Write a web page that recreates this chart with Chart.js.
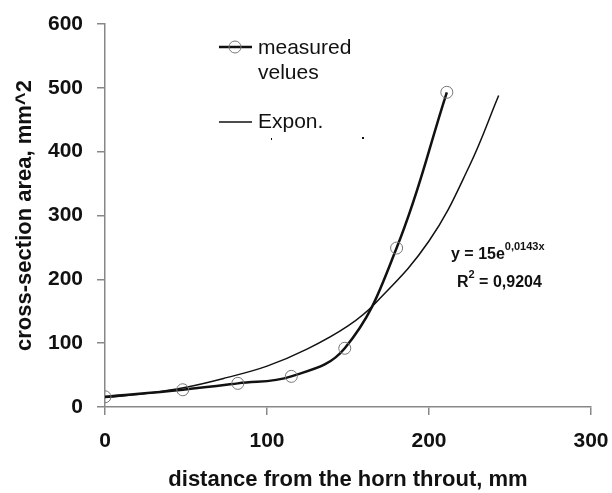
<!DOCTYPE html>
<html>
<head>
<meta charset="utf-8">
<script src="https://cdn.jsdelivr.net/npm/chart.js@4.4.0/dist/chart.umd.min.js"></script>
<style>
  html, body { margin: 0; padding: 0; background: #fff; }
  #wrap { width: 612px; height: 493px; }
</style>
</head>
<body>
<div id="wrap"><canvas id="myChart" width="612" height="493"></canvas></div>
<script>
// measured points
const measX = [0, 48, 82, 115, 148, 180, 211];
const measY = [16, 27, 37, 48, 92, 249, 493];
// exponential trendline
const expX = [0, 25, 50, 75, 100, 125, 150, 167, 200, 225, 243];
const expY = [15, 21, 31, 46, 64, 91, 127, 163, 260, 378, 488];
const xTicks = [0, 100, 200, 300];
const yTicks = [0, 100, 200, 300, 400, 500, 600];

const FONT = "'Liberation Sans', Arial, sans-serif";
const ctx = document.getElementById('myChart');

// legend + equation drawn by hand, like the original picture
const extras = {
  id: 'extras',
  afterDraw(chart) {
    const c = chart.ctx;
    c.save();
    c.fillStyle = '#111';
    c.strokeStyle = '#111';
    c.textBaseline = 'middle';
    c.textAlign = 'left';

    // legend: measured
    c.lineWidth = 2.5;
    c.beginPath(); c.moveTo(219, 47); c.lineTo(252, 47); c.stroke();
    c.lineWidth = 1;
    c.strokeStyle = '#777';
    c.beginPath(); c.arc(235, 47, 6, 0, Math.PI * 2); c.stroke();
    c.font = '21px ' + FONT;
    c.fillText('measured', 258, 48);
    c.fillText('velues', 258, 73);
    // legend: Expon.
    c.strokeStyle = '#111';
    c.lineWidth = 1.5;
    c.beginPath(); c.moveTo(219, 122); c.lineTo(252, 122); c.stroke();
    c.fillText('Expon.', 258, 122);
    // two small specks under the legend
    c.fillRect(362, 137, 2, 2);
    c.fillRect(271, 138, 1, 2);

    // equation
    c.textBaseline = 'alphabetic';
    c.font = 'bold 16px ' + FONT;
    c.fillText('y = 15e', 451, 259);
    let w = c.measureText('y = 15e').width;
    c.font = 'bold 11px ' + FONT;
    c.fillText('0,0143x', 451 + w, 250);
    c.font = 'bold 16px ' + FONT;
    c.fillText('R', 457, 287);
    w = c.measureText('R').width;
    c.font = 'bold 11px ' + FONT;
    c.fillText('2', 457 + w, 278);
    const w2 = c.measureText('2').width;
    c.font = 'bold 16px ' + FONT;
    c.fillText(' = 0,9204', 457 + w + w2, 287);
    c.restore();
  }
};

new Chart(ctx, {
  type: 'scatter',
  data: {
    datasets: [{
      label: 'measured velues',
      data: measX.map((x, i) => ({ x: x, y: measY[i] })),
      showLine: true,
      borderColor: '#111',
      borderWidth: 2.5,
      tension: 0.4,
      pointRadius: 6,
      pointBorderWidth: 1,
      pointBorderColor: '#777',
      pointBackgroundColor: 'rgba(0,0,0,0)',
      order: 1
    }, {
      label: 'Expon.',
      data: expX.map((x, i) => ({ x: x, y: expY[i] })),
      showLine: true,
      borderColor: '#111',
      borderWidth: 1.5,
      tension: 0.4,
      pointRadius: 0,
      order: 2
    }]
  },
  options: {
    responsive: false,
    animation: false,
    layout: { padding: { left: 0, right: 21, top: 24, bottom: 0 } },
    plugins: { legend: { display: false }, tooltip: { enabled: false } },
    scales: {
      x: {
        type: 'linear',
        min: 0, max: 300,
        afterBuildTicks: (s) => { s.ticks = xTicks.map(v => ({ value: v })); },
        afterFit: (s) => { s.height = 86; s.paddingRight = 0; s.paddingLeft = 0; },
        grid: { drawOnChartArea: false, tickLength: 8, color: '#888', lineWidth: 1.5 },
        border: { color: '#888', width: 1.5 },
        ticks: { color: '#111', padding: 14, font: { family: FONT, size: 21, weight: 'bold' } },
        title: {
          display: true, text: 'distance from the horn throut, mm', color: '#111',
          padding: { top: 0, bottom: 0 }, font: { family: FONT, size: 22, weight: 'bold' }
        }
      },
      y: {
        min: 0, max: 600,
        afterBuildTicks: (s) => { s.ticks = yTicks.map(v => ({ value: v })); },
        afterFit: (s) => { s.width = 105; s.paddingTop = 0; s.paddingBottom = 0; },
        grid: { drawOnChartArea: false, tickLength: 8, color: '#888', lineWidth: 1.5 },
        border: { color: '#888', width: 1.5 },
        ticks: { color: '#111', padding: 14, font: { family: FONT, size: 21, weight: 'bold' } },
        title: {
          display: true, text: 'cross-section area, mm^2', color: '#111',
          padding: { top: 12, bottom: 0 }, font: { family: FONT, size: 22, weight: 'bold' }
        }
      }
    }
  },
  plugins: [extras]
});
</script>
</body>
</html>
